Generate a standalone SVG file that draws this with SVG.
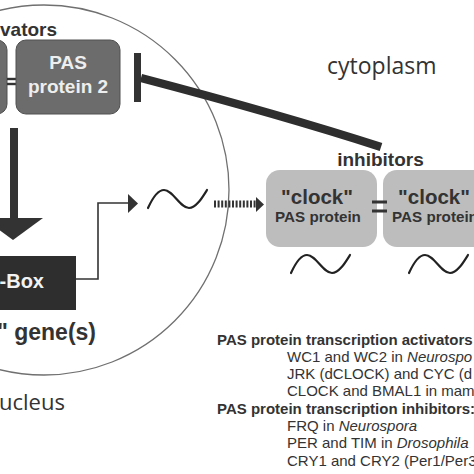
<svg xmlns="http://www.w3.org/2000/svg" width="474" height="474" viewBox="0 0 474 474">
<style>
.b{font-family:"Liberation Sans",Arial,sans-serif;font-weight:bold;fill:#333}
.r{font-family:"Liberation Sans",Arial,sans-serif;font-size:15px;fill:#333}
.lbl{font-family:"Open Sans","Noto Sans",sans-serif;fill:#333}
.dark{fill:#6c6c6c;stroke:#505050;stroke-width:1}
.light{fill:#bdbdbd}
.wave{fill:none;stroke:#222;stroke-width:2.2;stroke-linecap:round}
.eq{fill:#333}
</style>
<defs>
<path id="wv" d="M0,18 C5,7 10,0 16,0 C25,0 32,18 41,18 C48,18 54,8 59,0"/>
</defs>
<rect width="474" height="474" fill="#fff"/>
<circle id="nucleus-membrane" cx="44" cy="190" r="185" fill="none" stroke="#707070" stroke-width="1.3"/>
<text class="lbl" x="327" y="74" font-size="23">cytoplasm</text>
<text class="lbl" x="-1" y="410" font-size="22">ucleus</text>

<g id="activators">
<text class="b" x="0" y="36" font-size="19">vators</text>
<g id="pas1"><rect class="dark" x="-100" y="40" width="107" height="74" rx="10"/></g>
<rect class="eq" x="7" y="77.8" width="10" height="2.4"/>
<rect class="eq" x="7" y="82.8" width="10" height="2.4"/>
<g id="pas2">
<rect class="dark" x="16" y="40" width="104" height="74" rx="10"/>
<text class="b" x="68" y="69" font-size="19" text-anchor="middle" style="fill:#eee">PAS</text>
<text class="b" x="68" y="93" font-size="19" text-anchor="middle" style="fill:#eee">protein 2</text>
</g>
</g>

<g id="ebox">
<rect x="-10" y="256" width="86" height="54" fill="#2e2e2e"/>
<text class="b" x="44" y="288" font-size="20" text-anchor="end" style="fill:#f2f2f2">-Box</text>
<text class="b" x="96" y="339.5" font-size="23" text-anchor="end">" gene(s)</text>
</g>

<g id="mrna-nucleus"><use href="#wv" class="wave" transform="translate(148,190)"/></g>

<g id="inhibitors">
<text class="b" x="380.5" y="165.5" font-size="19" text-anchor="middle">inhibitors</text>
<g id="clock1">
<rect class="light" x="266" y="170" width="111" height="77" rx="14"/>
<text class="b" x="317" y="203.5" font-size="20.5" text-anchor="middle">"clock"</text>
<text class="b" x="318" y="222" font-size="15.2" text-anchor="middle">PAS protein</text>
</g>
<g id="clock2">
<rect class="light" x="383" y="170" width="111" height="77" rx="14"/>
<text class="b" x="434" y="203.5" font-size="20.5" text-anchor="middle">"clock"</text>
<text class="b" x="435" y="222" font-size="15.2" text-anchor="middle">PAS protein</text>
</g>
<rect class="eq" x="372" y="200.5" width="15" height="3"/>
<rect class="eq" x="372" y="209.5" width="15" height="3"/>
<use href="#wv" class="wave" transform="translate(291,255)"/>
<use href="#wv" class="wave" transform="translate(409,255)"/>
</g>

<g id="connectors">
<rect x="10" y="128" width="8" height="91" fill="#333"/>
<polygon points="-17,218 43,218 13,240" fill="#333"/>
<path d="M76,279 H98 V203 H129" fill="none" stroke="#333" stroke-width="1.6"/>
<polygon points="128,194 138,203.5 128,213" fill="#333"/>
<line x1="214" y1="204" x2="257" y2="204" stroke="#333" stroke-width="7" stroke-dasharray="2 1.6"/>
<polygon points="256,197 264,204.5 256,212" fill="#333"/>
<path d="M141,78 Q282,115 381,147" fill="none" stroke="#2e2e2e" stroke-width="8.5"/>
<rect x="134" y="53" width="7" height="49" fill="#333"/>
</g>

<g id="legend">
<text class="r" x="217" y="344.5" font-weight="bold">PAS protein transcription activators</text>
<text class="r" x="287" y="361.8">WC1 and WC2 in <tspan font-style="italic">Neurospo</tspan></text>
<text class="r" x="287" y="379.1">JRK (dCLOCK) and CYC (d</text>
<text class="r" x="287" y="396.4">CLOCK and BMAL1 in mam</text>
<text class="r" x="217" y="413.7" font-weight="bold">PAS protein transcription inhibitors:</text>
<text class="r" x="287" y="431">FRQ in <tspan font-style="italic">Neurospora</tspan></text>
<text class="r" x="287" y="448.3">PER and TIM in <tspan font-style="italic">Drosophila</tspan></text>
<text class="r" x="287" y="465.6">CRY1 and CRY2 (Per1/Per3?)</text>
</g>
</svg>
